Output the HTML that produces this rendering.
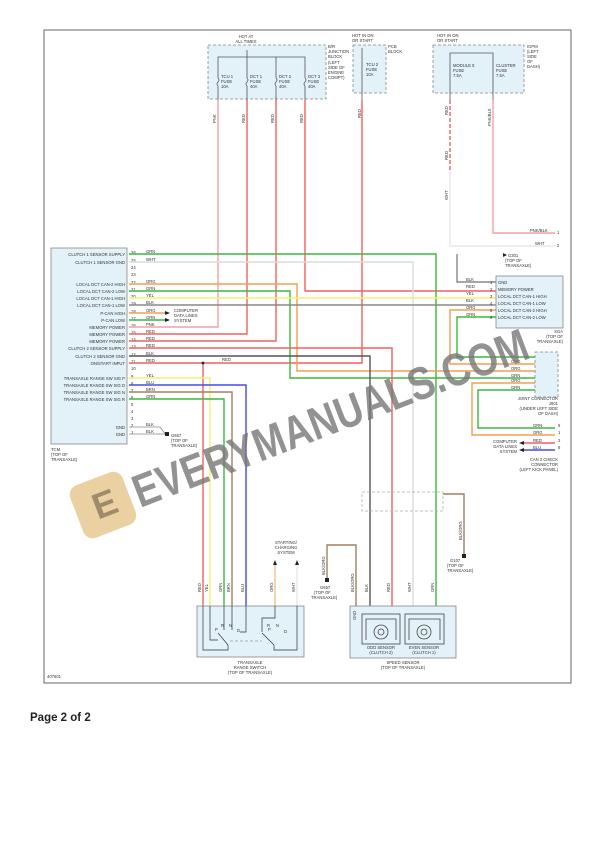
<!DOCTYPE html>
<html><head><meta charset="utf-8"><style>
html,body{margin:0;padding:0;background:#fff;}
svg{display:block;font-family:"Liberation Sans",sans-serif;}
.t{font-size:4.2px;fill:#333;}
.r{text-anchor:end;}
.w{fill:none;stroke-width:1.4;}
.box{fill:#e3f1f9;stroke:#888;stroke-width:0.8;}
.dbox{fill:#e3f1f9;stroke:#888;stroke-width:0.8;stroke-dasharray:3 2;}
</style></head><body>
<svg width="612" height="866" viewBox="0 0 612 866" xmlns="http://www.w3.org/2000/svg">
<rect x="44" y="30" width="527" height="653" fill="#fff" stroke="#666" stroke-width="1"/>

<!-- top fuse boxes -->
<rect class="dbox" x="208" y="45" width="118" height="54"/>
<text class="t" x="246" y="38" text-anchor="middle">HOT AT</text>
<text class="t" x="246" y="43" text-anchor="middle">ALL TIMES</text>
<text class="t" x="328" y="48">B/R</text><text class="t" x="328" y="53">JUNCTION</text><text class="t" x="328" y="58">BLOCK</text><text class="t" x="328" y="64">(LEFT</text><text class="t" x="328" y="69">SIDE OF</text><text class="t" x="328" y="74">ENGINE</text><text class="t" x="328" y="79">COMPT)</text>
<polyline points="218,78 218,57 305,57 305,78" fill="none" stroke="#555" stroke-width="0.8"/>
<line x1="247" y1="50" x2="247" y2="78" stroke="#555" stroke-width="0.8"/>
<line x1="276" y1="57" x2="276" y2="78" stroke="#555" stroke-width="0.8"/>
<g stroke="#555" stroke-width="0.8" fill="none">
<path d="M218,78 q2,2 0,4 q-2,2 0,4"/><path d="M247,78 q2,2 0,4 q-2,2 0,4"/><path d="M276,78 q2,2 0,4 q-2,2 0,4"/><path d="M305,78 q2,2 0,4 q-2,2 0,4"/>
<line x1="218" y1="86" x2="218" y2="100"/><line x1="247" y1="86" x2="247" y2="100"/><line x1="276" y1="86" x2="276" y2="100"/><line x1="305" y1="86" x2="305" y2="100"/>
</g>
<text class="t" x="221" y="78">TCU 1</text><text class="t" x="221" y="83">FUSE</text><text class="t" x="221" y="88">10A</text>
<text class="t" x="250" y="78">DCT 1</text><text class="t" x="250" y="83">FUSE</text><text class="t" x="250" y="88">40A</text>
<text class="t" x="279" y="78">DCT 2</text><text class="t" x="279" y="83">FUSE</text><text class="t" x="279" y="88">40A</text>
<text class="t" x="308" y="78">DCT 3</text><text class="t" x="308" y="83">FUSE</text><text class="t" x="308" y="88">40A</text>

<rect class="dbox" x="353" y="45" width="33" height="48"/>
<text class="t" x="352" y="37">HOT IN ON</text><text class="t" x="352" y="42">OR START</text>
<text class="t" x="388" y="48">PCB</text><text class="t" x="388" y="53">BLOCK</text>
<line x1="362" y1="48" x2="362" y2="100" stroke="#555" stroke-width="0.8"/>
<text class="t" x="366" y="66">TCU 2</text><text class="t" x="366" y="71">FUSE</text><text class="t" x="366" y="76">10A</text>

<rect class="dbox" x="433" y="45" width="91" height="48"/>
<text class="t" x="437" y="37">HOT IN ON</text><text class="t" x="437" y="42">OR START</text>
<text class="t" x="527" y="48">IGPM</text><text class="t" x="527" y="53">(LEFT</text><text class="t" x="527" y="58">SIDE</text><text class="t" x="527" y="63">OF</text><text class="t" x="527" y="68">DASH)</text>
<polyline points="450,100 450,53 493,53 493,100" fill="none" stroke="#555" stroke-width="0.8"/>
<text class="t" x="453" y="67">MODULE 5</text><text class="t" x="453" y="72">FUSE</text><text class="t" x="453" y="77">7.5A</text>
<text class="t" x="496" y="67">CLUSTER</text><text class="t" x="496" y="72">FUSE</text><text class="t" x="496" y="77">7.5A</text>

<!-- wire labels top (vertical) -->
<g class="t" font-size="3.8">
<text transform="translate(216,123) rotate(-90)">PNK</text>
<text transform="translate(245,123) rotate(-90)">RED</text>
<text transform="translate(274,123) rotate(-90)">RED</text>
<text transform="translate(303,123) rotate(-90)">RED</text>
<text transform="translate(361,118) rotate(-90)">RED</text>
<text transform="translate(448,115) rotate(-90)">RED</text>
<text transform="translate(448,160) rotate(-90)">RED</text>
<text transform="translate(491,126) rotate(-90)">PNK/BLK</text>
<text transform="translate(448,200) rotate(-90)">WHT</text>
</g>

<!-- TCM box -->
<rect class="box" x="51" y="248" width="76" height="196"/>
<text class="t" x="51" y="451">TCM</text><text class="t" x="51" y="456">(TOP OF</text><text class="t" x="51" y="461">TRANSAXLE)</text>
<g class="t r">
<text x="125" y="256">CLUTCH 1 SENSOR SUPPLY</text>
<text x="125" y="264">CLUTCH 1 SENSOR GND</text>
<text x="125" y="286">LOCAL DCT CAN-2 HIGH</text>
<text x="125" y="293">LOCAL DCT CAN-2 LOW</text>
<text x="125" y="300">LOCAL DCT CAN-1 HIGH</text>
<text x="125" y="307">LOCAL DCT CAN-1 LOW</text>
<text x="125" y="315">P-CAN HIGH</text>
<text x="125" y="322">P-CAN LOW</text>
<text x="125" y="329">MEMORY POWER</text>
<text x="125" y="336">MEMORY POWER</text>
<text x="125" y="343">MEMORY POWER</text>
<text x="125" y="350">CLUTCH 2 SENSOR SUPPLY</text>
<text x="125" y="358">CLUTCH 2 SENSOR GND</text>
<text x="125" y="365">ON/START INPUT</text>
<text x="125" y="380">TRANSAXLE RANGE SW SIG P</text>
<text x="125" y="387">TRANSAXLE RANGE SW SIG D</text>
<text x="125" y="394">TRANSAXLE RANGE SW SIG N</text>
<text x="125" y="401">TRANSAXLE RANGE SW SIG R</text>
<text x="125" y="429">GND</text>
<text x="125" y="436">GND</text>
</g>
<g class="t" font-size="3.6">
<text x="131" y="254">26</text><text x="131" y="262">25</text><text x="131" y="269">24</text><text x="131" y="276">23</text><text x="131" y="284">22</text><text x="131" y="291">21</text><text x="131" y="298">20</text><text x="131" y="305">19</text><text x="131" y="313">18</text><text x="131" y="320">17</text><text x="131" y="327">16</text><text x="131" y="334">15</text><text x="131" y="341">14</text><text x="131" y="348">13</text><text x="131" y="356">12</text><text x="131" y="363">11</text><text x="131" y="370">10</text><text x="131" y="378">9</text><text x="131" y="385">8</text><text x="131" y="392">7</text><text x="131" y="399">6</text><text x="131" y="406">5</text><text x="131" y="413">4</text><text x="131" y="420">3</text><text x="131" y="427">2</text><text x="131" y="434">1</text>
</g>
<g class="t">
<text x="146" y="253">GRN</text><text x="146" y="261">WHT</text><text x="146" y="283">ORG</text><text x="146" y="290">GRN</text><text x="146" y="297">YEL</text><text x="146" y="304">BLK</text><text x="146" y="312">ORG</text><text x="146" y="319">GRN</text><text x="146" y="326">PNK</text><text x="146" y="333">RED</text><text x="146" y="340">RED</text><text x="146" y="347">RED</text><text x="146" y="355">BLK</text><text x="146" y="362">RED</text><text x="146" y="377">YEL</text><text x="146" y="384">BLU</text><text x="146" y="391">BRN</text><text x="146" y="398">GRN</text><text x="146" y="426">BLK</text><text x="146" y="433">BLK</text>
<text x="222" y="361">RED</text>
<text x="174" y="312">COMPUTER</text><text x="174" y="317">DATA LINES</text><text x="174" y="322">SYSTEM</text>
<text x="171" y="437">G657</text><text x="171" y="442">(TOP OF</text><text x="171" y="447">TRANSAXLE)</text>
</g>

<!-- wires -->
<g class="w">
<polyline stroke="#f4a0a8" points="218,100 218,327 129,327"/>
<polyline stroke="#f06060" points="247,100 247,334 129,334"/>
<polyline stroke="#f06060" points="276,100 276,341 129,341"/>
<polyline stroke="#f06060" points="305,100 305,291 497,291"/>
<polyline stroke="#f06060" points="362,100 362,363 129,363"/>
<polyline stroke="#3cb83c" points="129,254 436,254 436,606"/>
<polyline stroke="#dcdcdc" points="129,262 413,262 413,606"/>
<polyline stroke="#f0a050" points="129,284 297,284 297,371 536,371"/>
<polyline stroke="#3cb83c" points="129,291 290,291 290,378 536,378"/>
<polyline stroke="#f4f070" points="129,298 497,298"/>
<polyline stroke="#888" points="129,305 497,305"/>
<polyline stroke="#f0a050" points="129,313 165,313"/>
<polyline stroke="#3cb83c" points="129,320 165,320"/>
<polyline stroke="#f06060" points="129,348 392,348 392,606"/>
<polyline stroke="#555" points="129,356 370,356 370,606"/>
<polyline stroke="#f06060" points="203,363 203,606"/>
<polyline stroke="#f4f070" points="129,378 210,378 210,606"/>
<polyline stroke="#4848e8" points="129,385 246,385 246,606"/>
<polyline stroke="#a08060" points="129,392 232,392 232,606"/>
<polyline stroke="#3cb83c" points="129,399 224,399 224,606"/>
<polyline stroke="#888" stroke-width="0.8" points="129,427 160,427 166,435"/>
<polyline stroke="#888" stroke-width="0.8" points="129,434 166,434"/>
<!-- IGPM -->
<polyline stroke="#f06060" stroke-dasharray="4 2" points="450,100 450,170"/>
<polyline stroke="#e8e8e8" points="450,170 450,246 555,246"/>
<polyline stroke="#f4a0a8" points="493,100 493,233 555,233"/>
<polyline stroke="#888" points="497,282 457,282 457,254"/>
<polyline stroke="#f0a050" points="497,310 450,310 450,364 536,364"/>
<polyline stroke="#3cb83c" points="497,317 457,317 457,357 536,357"/>
<polyline stroke="#f0a050" points="536,383 472,383 472,435 555,435"/>
<polyline stroke="#3cb83c" points="536,390 478,390 478,428 555,428"/>
<polyline stroke="#f06060" points="524,443 555,443"/>
<polyline stroke="#4848e8" points="524,450 555,450"/>
<!-- speed sensor gnd -->
<polyline stroke="#a08060" points="327,578 327,545 356,545 356,606"/>
<polyline stroke="#a08060" points="443,494 464,494 464,555"/>
<!-- starting -->
<polyline stroke="#f0c090" points="275,565 275,606"/>
<polyline stroke="#e8e8e8" points="297,565 297,606"/>
</g>
<circle cx="203" cy="363" r="1.4" fill="#222"/>
<g fill="#222">
<polygon points="165,311 170,313 165,315"/><polygon points="165,318 170,320 165,322"/>
<rect x="165" y="432" width="4" height="4"/>
<polygon points="524,441 519,443 524,445"/><polygon points="524,448 519,450 524,452"/>
<rect x="325" y="578" width="4" height="4"/><rect x="462" y="554" width="4" height="4"/>
<polygon points="273,565 275,560 277,565"/><polygon points="295,565 297,560 299,565"/>
<polygon points="503,253 507,255 503,257"/>
</g>
<text class="t" x="508" y="257">G301</text><text class="t" x="505" y="262">(TOP OF</text><text class="t" x="505" y="267">TRANSAXLE)</text>
<text class="t" x="530" y="232">PNK/BLK</text><text class="t" x="557" y="234">1</text>
<text class="t" x="535" y="245">WHT</text><text class="t" x="557" y="247">2</text>

<!-- SGA -->
<rect class="box" x="496" y="276" width="67" height="52"/>
<g class="t">
<text x="498" y="284">GND</text><text x="498" y="291">MEMORY POWER</text><text x="498" y="298">LOCAL DCT CAN-1 HIGH</text><text x="498" y="305">LOCAL DCT CAN-1 LOW</text><text x="498" y="312">LOCAL DCT CAN-2 HIGH</text><text x="498" y="319">LOCAL DCT CAN-2 LOW</text>
<text x="466" y="281">BLK</text><text x="466" y="288">RED</text><text x="466" y="295">YEL</text><text x="466" y="302">BLK</text><text x="466" y="309">ORG</text><text x="466" y="316">GRN</text>
<text x="490" y="284">1</text><text x="490" y="291">2</text><text x="490" y="298">3</text><text x="490" y="305">4</text><text x="490" y="312">5</text><text x="490" y="319">6</text>
<text class="r" x="563" y="333">SGA</text><text class="r" x="563" y="338">(TOP OF</text><text class="r" x="563" y="343">TRANSAXLE)</text>
</g>
<rect class="dbox" x="535" y="352" width="23" height="45"/>
<g class="t">
<text x="511" y="363">ORG</text><text x="511" y="370">ORG</text><text x="511" y="377">GRN</text><text x="511" y="382">ORG</text><text x="511" y="389">GRN</text>
<text class="r" x="558" y="400">JOINT CONNECTOR</text><text class="r" x="558" y="405">J601</text><text class="r" x="558" y="410">(UNDER LEFT SIDE</text><text class="r" x="558" y="415">OF DASH)</text>
<text x="533" y="427">GRN</text><text x="533" y="434">ORG</text><text x="533" y="442">RED</text><text x="533" y="449">BLU</text>
<text x="558" y="427">6</text><text x="558" y="434">1</text><text x="558" y="442">2</text><text x="558" y="449">8</text>
<text class="r" x="517" y="443">COMPUTER</text><text class="r" x="517" y="448">DATA LINES</text><text class="r" x="517" y="453">SYSTEM</text>
<text class="r" x="558" y="461">CAN 2 CHECK</text><text class="r" x="558" y="466">CONNECTOR</text><text class="r" x="558" y="471">(LEFT KICK PANEL)</text>
</g>
<rect x="362" y="492" width="81" height="19" fill="none" stroke="#aaa" stroke-width="0.7" stroke-dasharray="3 2"/>
<text class="t" transform="translate(462,540) rotate(-90)">BLK/ORG</text>
<text class="t" x="450" y="562">G107</text><text class="t" x="447" y="567">(TOP OF</text><text class="t" x="447" y="572">TRANSAXLE)</text>
<text class="t" transform="translate(325,575) rotate(-90)">BLK/ORG</text>
<text class="t" x="320" y="589">G657</text><text class="t" x="314" y="594">(TOP OF</text><text class="t" x="311" y="599">TRANSAXLE)</text>
<text class="t" x="286" y="544" text-anchor="middle">STARTING/</text><text class="t" x="286" y="549" text-anchor="middle">CHARGING</text><text class="t" x="286" y="554" text-anchor="middle">SYSTEM</text>

<!-- bottom wire labels -->
<g class="t" font-size="3.6">
<text transform="translate(201,592) rotate(-90)">RED</text><text transform="translate(208,592) rotate(-90)">YEL</text><text transform="translate(222,592) rotate(-90)">GRN</text><text transform="translate(230,592) rotate(-90)">BRN</text><text transform="translate(244,592) rotate(-90)">BLU</text><text transform="translate(273,592) rotate(-90)">ORG</text><text transform="translate(295,592) rotate(-90)">WHT</text>
<text transform="translate(354,592) rotate(-90)">BLK/ORG</text><text transform="translate(368,592) rotate(-90)">BLK</text><text transform="translate(390,592) rotate(-90)">RED</text><text transform="translate(411,592) rotate(-90)">WHT</text><text transform="translate(434,592) rotate(-90)">GRN</text>
</g>

<!-- range switch -->
<rect class="box" x="197" y="606" width="107" height="51"/>
<g fill="none" stroke="#333" stroke-width="0.7">
<polyline points="210,606 210,640 218,640"/><polyline points="224,606 224,630"/><polyline points="232,606 232,630"/><polyline points="246,606 246,632 240,632"/>
<polyline points="203,606 203,650 228,650 228,645"/><line x1="218" y1="633" x2="228" y2="645"/>
<polyline points="297,606 297,650 274,650 274,645"/><line x1="262" y1="633" x2="274" y2="645"/>
<polyline points="275,606 275,618 262,618 262,632"/>
<line x1="230" y1="641" x2="262" y2="641" stroke-dasharray="3 2" stroke="#999"/>
</g>
<g class="t"><text x="215" y="631">P</text><text x="221" y="627">R</text><text x="229" y="627">N</text><text x="237" y="632">D</text><text x="268" y="631">P</text><text x="276" y="627">N</text><text x="284" y="633">D</text><text x="267" y="627">R</text></g>
<text class="t" x="250" y="664" text-anchor="middle">TRANSAXLE</text><text class="t" x="250" y="669" text-anchor="middle">RANGE SWITCH</text><text class="t" x="250" y="674" text-anchor="middle">(TOP OF TRANSAXLE)</text>

<!-- speed sensor -->
<rect class="box" x="350" y="606" width="106" height="52"/>
<g fill="none" stroke="#444" stroke-width="0.8">
<rect x="362" y="614" width="38" height="30"/><rect x="405" y="614" width="39" height="30"/>
<circle cx="381" cy="632" r="7"/><circle cx="424" cy="632" r="7"/><circle cx="381" cy="632" r="3"/><circle cx="424" cy="632" r="3"/>
<polyline points="366,640 366,619 396,619 396,640"/><polyline points="409,640 409,619 440,619 440,640"/>
</g>
<text class="t" transform="translate(356,620) rotate(-90)">GND</text>
<text class="t" x="381" y="649" text-anchor="middle">ODD SENSOR</text><text class="t" x="381" y="654" text-anchor="middle">(CLUTCH 2)</text>
<text class="t" x="424" y="649" text-anchor="middle">EVEN SENSOR</text><text class="t" x="424" y="654" text-anchor="middle">(CLUTCH 1)</text>
<text class="t" x="403" y="664" text-anchor="middle">SPEED SENSOR</text><text class="t" x="403" y="669" text-anchor="middle">(TOP OF TRANSAXLE)</text>
<text class="t" x="47" y="678" font-size="3.5">407601</text>

<!-- watermark -->
<g transform="translate(103,505) rotate(-21)">
<rect x="-28" y="-28" width="56" height="56" rx="10" fill="#e8c890" opacity="0.85"/>
<text x="-10" y="12" font-size="36" font-weight="bold" fill="#8a7a60" opacity="0.8">E</text>
</g>
<text transform="translate(140,508) rotate(-21)" font-size="46" font-weight="bold" fill="#777" opacity="0.8" textLength="420" lengthAdjust="spacingAndGlyphs">EVERYMANUALS.COM</text>

<text x="30" y="721" font-size="11.5" font-weight="bold" fill="#222">Page 2 of 2</text>
</svg>
</body></html>
